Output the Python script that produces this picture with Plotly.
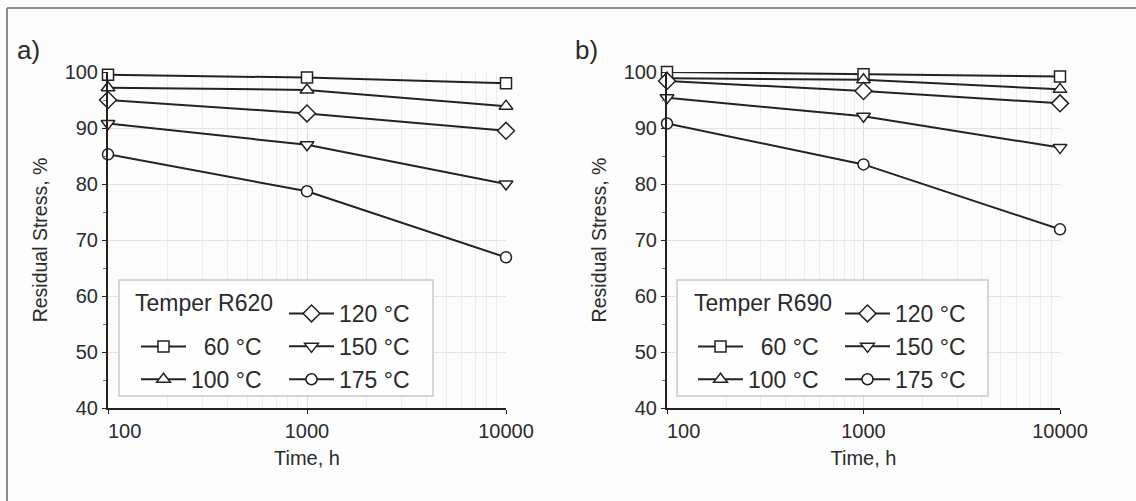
import plotly.graph_objects as go

# ---------------- data ----------------
times = [100, 1000, 10000]
temp_labels = ["\u200760 °C", "100 °C", "120 °C", "150 °C", "175 °C"]
symbols = ["square", "triangle-up", "diamond", "triangle-down", "circle"]
marker_sizes = [11, 12, 13, 12, 11]

r620_60 = [99.5, 99.0, 98.0]
r620_100 = [97.2, 96.8, 93.9]
r620_120 = [95.0, 92.6, 89.5]
r620_150 = [90.8, 87.0, 80.0]
r620_175 = [85.3, 78.7, 66.9]

r690_60 = [100.0, 99.6, 99.2]
r690_100 = [98.9, 98.6, 96.9]
r690_120 = [98.4, 96.6, 94.4]
r690_150 = [95.4, 92.1, 86.5]
r690_175 = [90.8, 83.5, 71.9]

panel_labels = ["a)", "b)"]
legend_titles = ["Temper R620", "Temper R690"]
x_tickvals = [100, 1000, 10000]
x_ticktext = ["\u00a0" * 6 + "100", "1000", "10000"]

W, H = 1136, 501
def px(x):
    return x / W
def py(y):
    return 1 - y / H

INK = "#222222"
TXT = "#2b2b2b"
FONT = "Arial, Liberation Sans, sans-serif"

fig = go.Figure()

series = [
    [r620_60, r620_100, r620_120, r620_150, r620_175],
    [r690_60, r690_100, r690_120, r690_150, r690_175],
]

for p, vals in enumerate(series):
    xa = "x" if p == 0 else "x2"
    ya = "y" if p == 0 else "y2"
    for i, v in enumerate(vals):
        leg_idx = p * 2 + (1 if i < 2 else 2)
        leg = "legend" if leg_idx == 1 else f"legend{leg_idx}"
        fig.add_trace(go.Scatter(
            x=times, y=v, mode="lines+markers", name=temp_labels[i],
            xaxis=xa, yaxis=ya, legend=leg, cliponaxis=False,
            line=dict(color=INK, width=2),
            marker=dict(symbol=symbols[i], size=marker_sizes[i], color="white",
                        line=dict(color=INK, width=1.5)),
        ))

x_domains = [[px(108), px(506)], [px(667), px(1060)]]
y_domain = [py(408), py(72)]

axis_common_x = dict(
    type="log", range=[2, 4], tickvals=x_tickvals, ticktext=x_ticktext,
    showline=True, linecolor=INK, linewidth=2, ticks="outside", ticklen=4,
    tickcolor=INK, tickfont=dict(size=20, color=TXT, family=FONT),
    showgrid=True, gridcolor="#dedede", gridwidth=1, zeroline=False,
    minor=dict(showgrid=True, gridcolor="#ececec", gridwidth=1, ticks="", dtick="D1"),
    title=dict(text="Time, h", font=dict(size=20, color=TXT, family=FONT), standoff=10),
    automargin=False,
)
axis_common_y = dict(
    range=[40, 100], dtick=10, domain=y_domain,
    showline=True, linecolor=INK, linewidth=2, ticks="outside", ticklen=4,
    tickcolor=INK, tickfont=dict(size=20, color=TXT, family=FONT),
    showgrid=True, gridcolor="#e3e3e3", gridwidth=1, zeroline=False,
    minor=dict(ticks="outside", ticklen=3, tickcolor="#777", dtick=5, showgrid=False),
    title=dict(text="Residual Stress, %", font=dict(size=19.5, color=TXT, family=FONT), standoff=12),
    automargin=False,
)

fig.update_layout(
    width=W, height=H,
    margin=dict(l=0, r=0, t=0, b=0),
    paper_bgcolor="#fcfcfc", plot_bgcolor="#fcfcfc",
    font=dict(family=FONT, color=TXT),
    xaxis=dict(axis_common_x, domain=x_domains[0], anchor="y"),
    yaxis=dict(axis_common_y, anchor="x"),
    xaxis2=dict(axis_common_x, domain=x_domains[1], anchor="y2"),
    yaxis2=dict(axis_common_y, anchor="x2"),
    showlegend=True,
)

# legends: two columns per panel
legend_pos = [  # (left px of symbol line, top px)
    (141, 325), (289, 292), (698, 325), (845, 292)
]
for k, (lx, ty) in enumerate(legend_pos):
    name = "legend" if k == 0 else f"legend{k + 1}"
    fig.update_layout({name: dict(
        x=px(lx - 5), y=py(ty), xanchor="left", yanchor="top",
        bgcolor="rgba(0,0,0,0)", borderwidth=0,
        font=dict(size=23, color=TXT, family=FONT),
        itemwidth=45, tracegroupgap=0, itemclick=False,
    )})

# legend boxes, panel labels, legend titles, frame
boxes = [(119, 280, 433, 396), (677, 280, 988, 396)]
for (x0, y0, x1, y1) in boxes:
    fig.add_shape(type="rect", xref="paper", yref="paper",
                  x0=px(x0), x1=px(x1), y0=py(y1), y1=py(y0),
                  line=dict(color="#c9c9c9", width=1.5), fillcolor="#fefefe", layer="above")

title_pos = [(133, 303), (692, 303)]
for t, (tx, ty) in zip(legend_titles, title_pos):
    fig.add_annotation(text=t, xref="paper", yref="paper", x=px(tx), y=py(ty),
                       xanchor="left", yanchor="middle", showarrow=False,
                       font=dict(size=23, color=TXT, family=FONT))

label_pos = [(15, 50), (573, 50)]
for t, (lx, ly) in zip(panel_labels, label_pos):
    fig.add_annotation(text=t, xref="paper", yref="paper", x=px(lx), y=py(ly),
                       xanchor="left", yanchor="middle", showarrow=False,
                       font=dict(size=26, color=TXT, family=FONT))

fig.add_shape(type="line", xref="paper", yref="paper", x0=px(7), x1=1, y0=py(8), y1=py(8),
              line=dict(color="#8a8a8a", width=2))
fig.add_shape(type="line", xref="paper", yref="paper", x0=px(7), x1=px(7), y0=0, y1=py(8),
              line=dict(color="#8a8a8a", width=2))

fig.write_html("out.html", config={"displayModeBar": False},
               post_script="document.body.style.margin='0';document.body.style.padding='0';")
